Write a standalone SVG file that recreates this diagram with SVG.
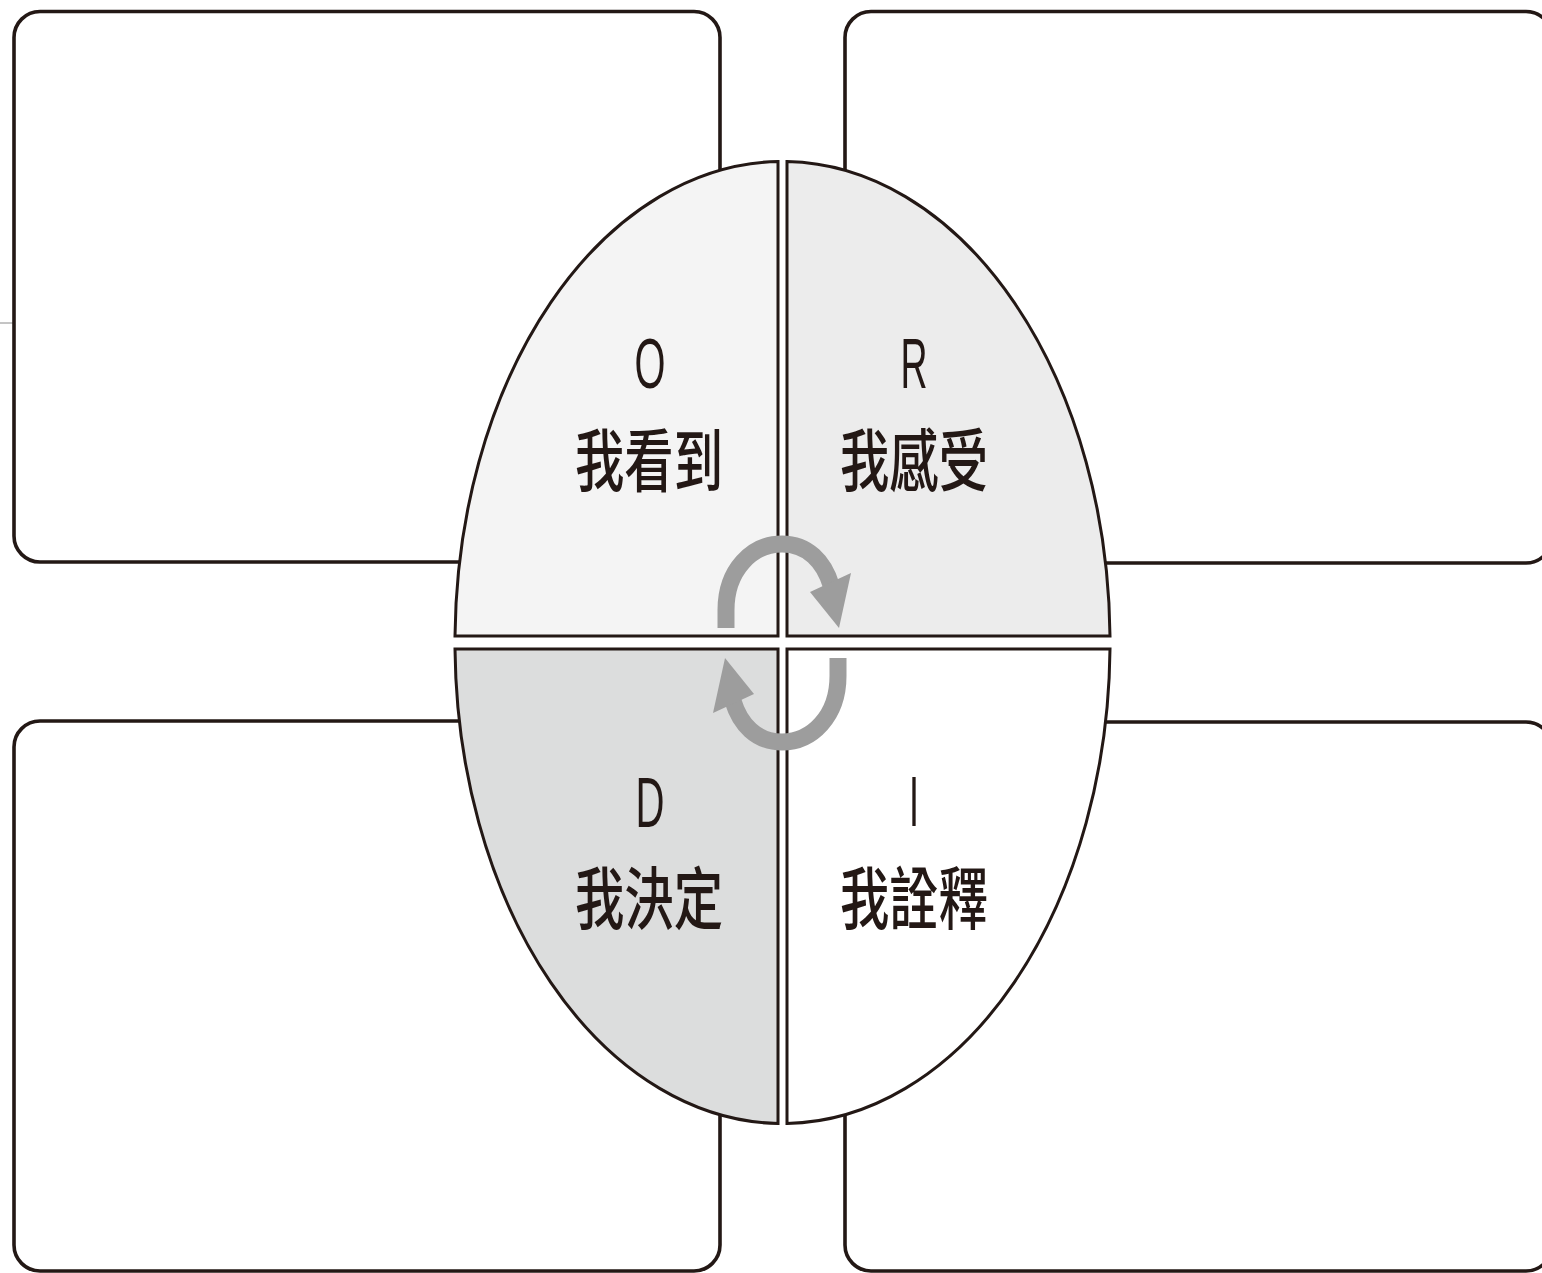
<svg xmlns="http://www.w3.org/2000/svg" width="1542" height="1273" viewBox="0 0 1542 1273">
<style>
.box{fill:#ffffff;stroke:#231815;stroke-width:3.6}
.q{stroke:#231815;stroke-width:3}
.lat{font-family:"Liberation Sans","Noto Sans",sans-serif;font-size:70px;fill:#231815;text-anchor:middle}
.cjk{font-family:"Noto Sans CJK TC","Noto Sans CJK SC",sans-serif;font-size:68px;font-weight:500;fill:#231815;text-anchor:middle}
.arc{fill:none;stroke:#9d9d9d;stroke-width:17}
.head{fill:#9d9d9d}
</style>
<rect width="1542" height="1273" fill="#ffffff"/>
<line x1="0" y1="323" x2="13" y2="323" stroke="#8a8a8a" stroke-width="1"/>
<g id="box-tl"><rect class="box" x="14" y="11.5" width="706" height="550.5" rx="26"/></g>
<g id="box-tr"><rect class="box" x="845" y="11.5" width="707" height="551.5" rx="26"/></g>
<g id="box-bl"><rect class="box" x="14" y="721" width="706" height="550" rx="26"/></g>
<g id="box-br"><rect class="box" x="845" y="722" width="707" height="549" rx="26"/></g>
<g id="quad-o">
<path class="q" fill="#f4f4f4" d="M778,161.5 A327.5 481 0 0 0 455,636 L778,636 Z"/>
<text class="lat" x="650" y="388" textLength="31" lengthAdjust="spacingAndGlyphs">O</text>
<text class="cjk" x="649" y="486" textLength="148" lengthAdjust="spacingAndGlyphs">我看到</text>
</g>
<g id="quad-r">
<path class="q" fill="#ececec" d="M787,161.5 A327.5 481 0 0 1 1110,636 L787,636 Z"/>
<text class="lat" x="914" y="388" textLength="27" lengthAdjust="spacingAndGlyphs">R</text>
<text class="cjk" x="914" y="486" textLength="148" lengthAdjust="spacingAndGlyphs">我感受</text>
</g>
<g id="quad-d">
<path class="q" fill="#dcdddd" d="M455,649 A327.5 481 0 0 0 778,1123.5 L778,649 Z"/>
<text class="lat" x="650" y="827" textLength="29" lengthAdjust="spacingAndGlyphs">D</text>
<text class="cjk" x="649" y="924" textLength="148" lengthAdjust="spacingAndGlyphs">我決定</text>
</g>
<g id="quad-i">
<path class="q" fill="#ffffff" d="M787,649 L787,1123.5 A327.5 481 0 0 0 1110,649 Z"/>
<text class="lat" x="914" y="826" textLength="10" lengthAdjust="spacingAndGlyphs">I</text>
<text class="cjk" x="914" y="924" textLength="148" lengthAdjust="spacingAndGlyphs">我詮釋</text>
</g>
<g id="connectors">
<g id="cycle-upper">
<path class="arc" d="M726,628 L726,610 C726,570 752,544 782,544 C808,544 824,562 831,585"/>
<polygon class="head" points="810,592 851,573 839,628"/>
</g>
<g id="cycle-lower" transform="rotate(180 782 643)">
<path class="arc" d="M726,628 L726,610 C726,570 752,544 782,544 C808,544 824,562 831,585"/>
<polygon class="head" points="810,592 851,573 839,628"/>
</g>
</g>
</svg>
